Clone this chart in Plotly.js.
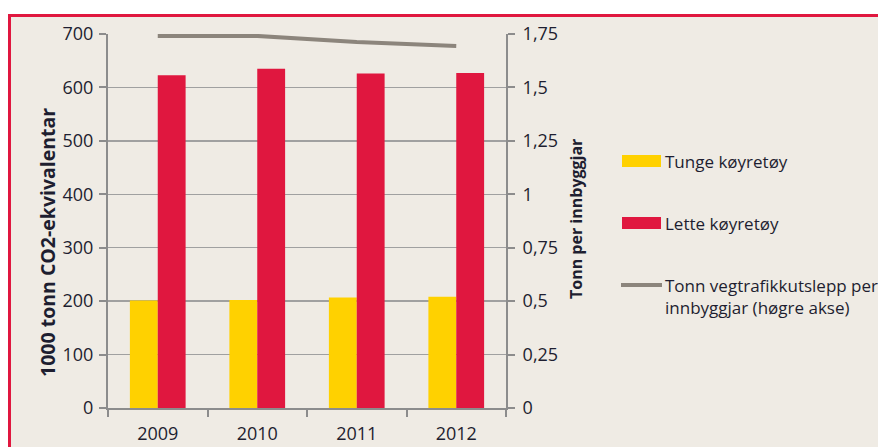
<!DOCTYPE html>
<html>
<head>
<meta charset="utf-8">
<script src="https://cdn.plot.ly/plotly-3.0.1.min.js"></script>
<style>
  html, body { margin:0; padding:0; background:#ffffff; width:878px; height:447px; overflow:hidden; }
  #frame { position:absolute; left:8px; top:14px; width:900px; height:500px; border:3px solid #E0173F; background:#EFEBE4; }
  #chart { position:absolute; left:0; top:0; width:878px; height:447px; }
</style>
</head>
<body>
<div id="frame"></div>
<div id="chart"></div>
<script>
const years = ["2009", "2010", "2011", "2012"];
const tunge = [201, 202, 207, 208];
const lette = [623, 635, 626, 627];
const perInnbyggjar = [1.741, 1.741, 1.712, 1.694];
const leftTicks = [0, 100, 200, 300, 400, 500, 600, 700];
const rightTicks = [0, 0.25, 0.5, 0.75, 1, 1.25, 1.5, 1.75];
const names = ["Tunge køyretøy", "Lette køyretøy", "Tonn vegtrafikkutslepp per<br>innbyggjar (høgre akse)"];

const txt = "#1e1e30";
const axisCol = "#8c8c8c";
const gridCol = "#a0a0a0";
const fontFam = "'Open Sans', Lato, sans-serif";

const traces = [
  { type:"bar", x:years, y:tunge, name:names[0], marker:{color:"#FFD100"} },
  { type:"bar", x:years, y:lette, name:names[1], marker:{color:"#E0173F"} },
  { type:"scatter", mode:"lines", x:years, y:perInnbyggjar, name:names[2], yaxis:"y2",
    line:{color:"#8C857C", width:4} }
];

const layout = {
  width:878, height:447,
  margin:{l:108, r:372, t:34, b:39},
  paper_bgcolor:"rgba(0,0,0,0)", plot_bgcolor:"rgba(0,0,0,0)",
  showlegend:false,
  separators:",.",
  barmode:"group", bargap:0.44, bargroupgap:0,
  font:{family:fontFam, size:18, color:txt},
  xaxis:{
    type:"category", showgrid:false, showline:true, linecolor:axisCol, linewidth:2,
    ticks:"outside", tickson:"boundaries", ticklen:7, tickcolor:axisCol, tickwidth:2,
    ticklabelstandoff:8, tickfont:{size:18, color:txt}, zeroline:false
  },
  yaxis:{
    range:[0,700], tickvals:leftTicks, showgrid:true, gridcolor:gridCol, gridwidth:1.5,
    showline:true, linecolor:axisCol, linewidth:2, ticks:"outside", ticklen:7,
    tickcolor:axisCol, tickwidth:2, tickfont:{size:18, color:txt}, zeroline:false,
    ticklabelstandoff:2
  },
  yaxis2:{
    overlaying:"y", side:"right", range:[0,1.75], tickvals:rightTicks, showgrid:false,
    showline:true, linecolor:axisCol, linewidth:2, ticks:"outside", ticklen:7,
    tickcolor:axisCol, tickwidth:2, tickfont:{size:18, color:txt}, zeroline:false,
    ticklabelstandoff:4
  },
  shapes:[
    {type:"rect", xref:"paper", yref:"paper", x0:(622-108)/398, x1:(661-108)/398,
     y0:(408-167)/374, y1:(408-155)/374, fillcolor:"#FFD100", line:{width:0}},
    {type:"rect", xref:"paper", yref:"paper", x0:(622-108)/398, x1:(661-108)/398,
     y0:(408-229)/374, y1:(408-217)/374, fillcolor:"#E0173F", line:{width:0}},
    {type:"line", xref:"paper", yref:"paper", x0:(621-108)/398, x1:(662-108)/398,
     y0:(408-285)/374, y1:(408-285)/374, line:{color:"#8C857C", width:4}}
  ],
  annotations:[
    {xref:"paper", yref:"paper", x:(47-108)/398, y:(408-243)/374, text:"<b>1000 tonn CO2-ekvivalentar</b>",
     textangle:-90, showarrow:false, font:{size:19.5, color:txt}, xanchor:"center", yanchor:"middle"},
    {xref:"paper", yref:"paper", x:(576-108)/398, y:(408-219)/374, text:"<b>Tonn per innbyggjar</b>",
     textangle:-90, showarrow:false, font:{size:16, color:txt}, xanchor:"center", yanchor:"middle"},
    {xref:"paper", yref:"paper", x:(663-108)/398, y:(408-161)/374, text:names[0],
     showarrow:false, font:{size:17, color:txt}, xanchor:"left", yanchor:"middle"},
    {xref:"paper", yref:"paper", x:(663-108)/398, y:(408-223)/374, text:names[1],
     showarrow:false, font:{size:17, color:txt}, xanchor:"left", yanchor:"middle"},
    {xref:"paper", yref:"paper", x:(663-108)/398, y:(408-296)/374, text:names[2],
     showarrow:false, font:{size:17, color:txt}, xanchor:"left", yanchor:"middle", align:"left"}
  ]
};

Plotly.newPlot("chart", traces, layout, {displayModeBar:false, staticPlot:true});
</script>
</body>
</html>
